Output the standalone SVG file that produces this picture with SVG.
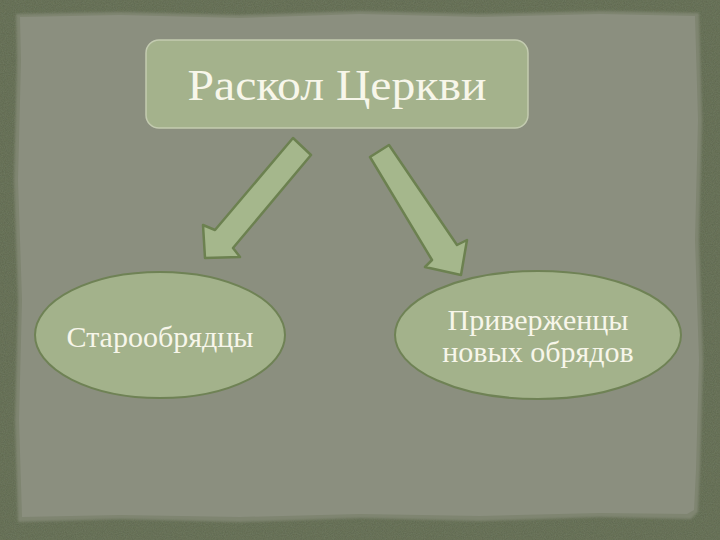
<svg xmlns="http://www.w3.org/2000/svg" width="720" height="540" viewBox="0 0 720 540">
  <defs>
    <filter id="grain" x="0" y="0" width="100%" height="100%">
      <feTurbulence type="fractalNoise" baseFrequency="0.9" numOctaves="2" seed="3" result="n"/>
      <feColorMatrix in="n" type="matrix" values="0 0 0 0 0.2  0 0 0 0 0.24  0 0 0 0 0.15  0 0 0 0.55 0" result="c"/>
      <feComposite in="c" in2="SourceGraphic" operator="in" result="t"/>
      <feMerge><feMergeNode in="SourceGraphic"/><feMergeNode in="t"/></feMerge>
    </filter>
    <filter id="soft" x="-5%" y="-5%" width="110%" height="110%">
      <feGaussianBlur stdDeviation="1.2"/>
    </filter>
  </defs>
  <style>
    .node { fill: #a3b28b; stroke: #6f8255; stroke-width: 2; }
    .box { fill: #a4b28c; stroke: #c3cbb0; stroke-width: 1.5; }
    .arrow { fill: #a5b78c; stroke: #6c8150; stroke-width: 2.5; stroke-linejoin: round; }
    .label { font-family: "Liberation Serif", "DejaVu Serif", serif; fill: #f7f6ea; text-anchor: middle; }
  </style>

  <!-- background -->
  <rect x="0" y="0" width="720" height="540" fill="#5f6750" filter="url(#grain)"/>
  <path d="M16,14 L120,12 L240,15 L360,11 L480,14 L600,11 L699,13 L702,120 L699,240 L703,360 L700,470 L698,512 L691,519 L600,517 L480,521 L360,518 L240,522 L120,519 L18,522 L15,420 L18,300 L14,180 L17,60 Z" fill="#7f8571" filter="url(#soft)"/>
  <path d="M20,17 L120,15 L240,18 L360,14 L480,17 L600,14 L695,16 L698,120 L695,240 L699,360 L696,470 L694,510 L687,514 L600,513 L480,516 L360,514 L240,517 L120,515 L22,517 L19,420 L22,300 L18,180 L21,60 Z" fill="#8b8f7f"/>

  <g id="connectors">
    <polygon id="arrow-left" class="arrow" points="293,138 311,155 233,248 240,257 205,258 203,225 215,230"/>
    <polygon id="arrow-right" class="arrow" points="370,157 389,145 457,245 467,240 461,275 425,267 432,260"/>
  </g>

  <g id="node-split">
    <rect class="box" x="146" y="40" width="382" height="88" rx="13" ry="13"/>
    <text class="label" x="337" y="100" font-size="44" textLength="299" lengthAdjust="spacingAndGlyphs">Раскол Церкви</text>
  </g>

  <g id="node-old">
    <ellipse class="node" cx="160" cy="335" rx="125" ry="63"/>
    <text class="label" x="160" y="347" font-size="30">Старообрядцы</text>
  </g>

  <g id="node-new">
    <ellipse class="node" cx="538" cy="335" rx="143" ry="64"/>
    <text class="label" x="538" y="330" font-size="30">Приверженцы</text>
    <text class="label" x="538" y="362" font-size="30">новых обрядов</text>
  </g>
</svg>
